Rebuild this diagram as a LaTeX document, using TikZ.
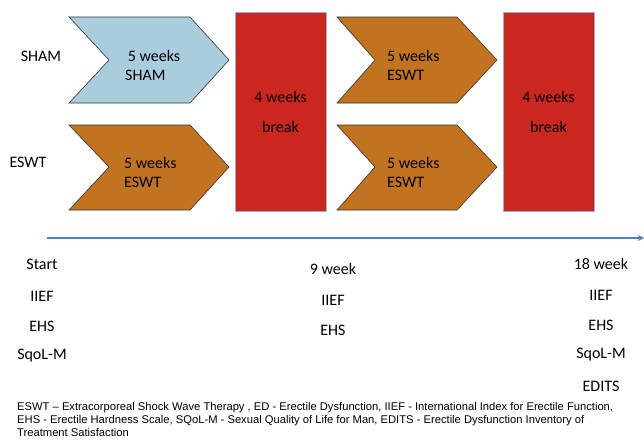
\documentclass[tikz,border=0pt]{standalone}
\usepackage{fontspec}
\setmainfont{Carlito}
\newfontfamily\notefont{Liberation Sans}
\usetikzlibrary{arrows.meta}

\definecolor{shamblue}{HTML}{A9CDDC}
\definecolor{eswtorange}{HTML}{C27320}
\definecolor{breakred}{HTML}{CC271E}
\definecolor{breakedge}{HTML}{9AAFD6}
\definecolor{axisblue}{HTML}{4F7FC0}

\begin{document}
\begin{tikzpicture}[x=1pt, y=-1pt, every node/.style={font=\fontsize{16}{19}\selectfont, inner sep=0pt},
		chev/.style={draw=black!80, line width=0.6pt, line join=miter},
		breakbox/.style={rectangle, fill=breakred, draw=breakedge, line width=0.8pt, minimum width=91pt, minimum height=199pt, align=center},
		lbl/.style={anchor=center}]
			\useasboundingbox (0,0) rectangle (644,440);
			
			% treatment blocks
			\draw[chev, fill=shamblue] (69,17) -- (190,17) -- (229,60) -- (190,103) -- (69,103) -- (109,60) -- cycle;
			\draw[chev, fill=eswtorange] (69,125) -- (190,125) -- (229,167) -- (190,210) -- (69,210) -- (109,167) -- cycle;
			\draw[chev, fill=eswtorange] (337,17) -- (457,17) -- (497,60) -- (457,103) -- (337,103) -- (375,60) -- cycle;
			\draw[chev, fill=eswtorange] (337,125) -- (457,125) -- (497,167) -- (457,210) -- (337,210) -- (375,167) -- cycle;
			
			\node[anchor=west, align=left] (shamtxt) at (125,65) {\,5 weeks\\SHAM};
			\node[anchor=west, align=left] (eswttxt1) at (124,172) {5 weeks\\ESWT};
			\node[anchor=west, align=left] (eswttxt2) at (387,65) {5 weeks\\ESWT};
			\node[anchor=west, align=left] (eswttxt3) at (387,172) {5 weeks\\ESWT};
			
			\node[breakbox] (break1) at (280.5,111.5) {4 weeks\\[11pt]break};
			\node[breakbox] (break2) at (548.5,111.5) {4 weeks\\[11pt]break};
			
			\node[lbl] (sham) at (41,56) {SHAM};
			\node[lbl] (eswt) at (28,162) {ESWT};
			
			% time axis
			\coordinate (tstart) at (47,238);
			\coordinate (tend) at (644,238);
			\draw[axisblue, line width=1.3pt, -{Stealth[length=6pt, width=6pt]}] (tstart) -- (tend);
			
			\node[lbl] (start) at (42,264) {Start};
			\node[lbl] (iief1) at (42,296) {IIEF};
			\node[lbl] (ehs1) at (42,326) {EHS};
			\node[lbl] (sqol1) at (42,356) {SqoL-M};
			
			\node[lbl] (week9) at (333,269) {9 week};
			\node[lbl] (iief2) at (333,300) {IIEF};
			\node[lbl] (ehs2) at (333,330) {EHS};
			
			\node[lbl] (week18) at (601,264) {18 week};
			\node[lbl] (iief3) at (601,295) {IIEF};
			\node[lbl] (ehs3) at (601,325) {EHS};
			\node[lbl] (sqol3) at (601,355) {SqoL-M};
			\node[lbl] (edits) at (601,386) {EDITS};
			
			\node[anchor=north west, align=left, font=\notefont\fontsize{11.2}{12.6}\selectfont] (note) at (17,402.5)
			{ESWT – Extracorporeal Shock Wave Therapy , ED - Erectile Dysfunction, IIEF - International Index for Erectile Function,\\
			EHS - Erectile Hardness Scale, SQoL-M - Sexual Quality of Life for Man, EDITS - Erectile Dysfunction Inventory of\\
			Treatment Satisfaction};
			\end{tikzpicture}
\end{document}
